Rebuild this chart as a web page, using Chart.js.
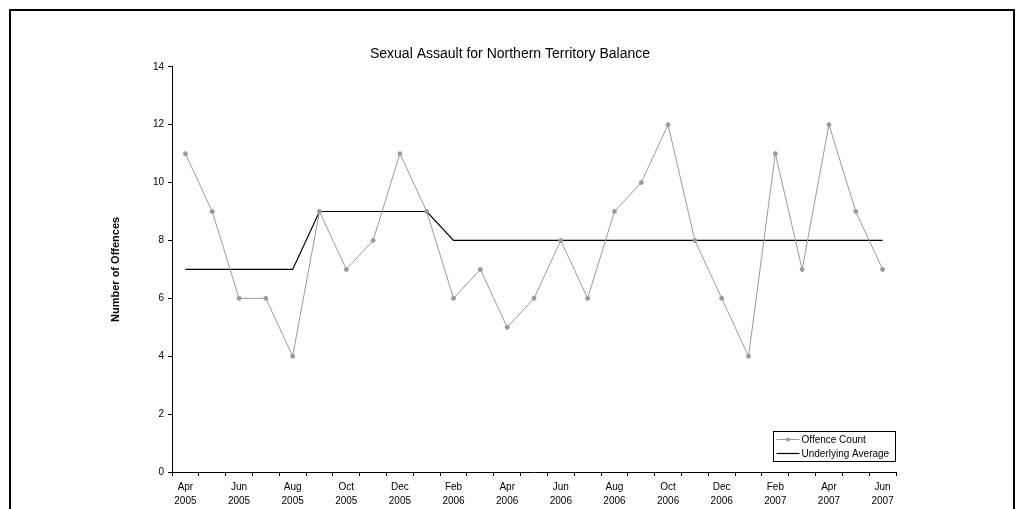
<!DOCTYPE html>
<html>
<head>
<meta charset="utf-8">
<script src="https://cdn.jsdelivr.net/npm/chart.js@4/dist/chart.umd.min.js"></script>
<style>
  html, body { margin: 0; padding: 0; background: #fff; overflow: hidden; }
  #wrap { position: relative; width: 1020px; height: 509px; }
  #frame { position: absolute; left: 9px; top: 9px; width: 1002px; height: 520px;
           border: 2px solid #000; pointer-events: none; }
  canvas { position: absolute; left: 0; top: 0; }
</style>
</head>
<body>
<div id="wrap">
  <canvas id="c" width="1020" height="509"></canvas>
  <div id="frame"></div>
</div>
<script>
const months = ['Apr 2005','May 2005','Jun 2005','Jul 2005','Aug 2005','Sep 2005','Oct 2005','Nov 2005','Dec 2005',
  'Jan 2006','Feb 2006','Mar 2006','Apr 2006','May 2006','Jun 2006','Jul 2006','Aug 2006','Sep 2006','Oct 2006',
  'Nov 2006','Dec 2006','Jan 2007','Feb 2007','Mar 2007','Apr 2007','May 2007','Jun 2007'];
const offenceCount = [11, 9, 6, 6, 4, 9, 7, 8, 11, 9, 6, 7, 5, 6, 8, 6, 9, 10, 12, 8, 6, 4, 11, 7, 12, 9, 7];
const underlyingAvg = [7, 7, 7, 7, 7, 9, 9, 9, 9, 9, 8, 8, 8, 8, 8, 8, 8, 8, 8, 8, 8, 8, 8, 8, 8, 8, 8];
const yTicks = [0, 2, 4, 6, 8, 10, 12, 14];

const FONT = '"Liberation Sans", Arial, sans-serif';

// legend box inside the plot, bottom right
const boxLegend = {
  id: 'boxLegend',
  afterDraw(chart) {
    const ctx = chart.ctx;
    const x = 773.5, y = 431.5, w = 122, h = 30;
    ctx.save();
    ctx.fillStyle = '#fff';
    ctx.fillRect(x, y, w, h);
    ctx.strokeStyle = '#000';
    ctx.lineWidth = 1;
    ctx.strokeRect(x, y, w, h);
    ctx.font = '10px ' + FONT;
    ctx.textBaseline = 'middle';
    chart.data.datasets.forEach((ds, i) => {
      const ly = y + 8 + i * 14;
      ctx.strokeStyle = ds.borderColor;
      ctx.lineWidth = ds.borderWidth;
      ctx.beginPath();
      ctx.moveTo(x + 3, ly);
      ctx.lineTo(x + 26, ly);
      ctx.stroke();
      if (ds.pointRadius > 0) {
        ctx.fillStyle = ds.pointBackgroundColor;
        ctx.beginPath();
        ctx.arc(x + 14.5, ly, ds.pointRadius, 0, Math.PI * 2);
        ctx.fill();
      }
      ctx.fillStyle = '#000';
      ctx.fillText(ds.label, x + 28, ly + 0.5);
    });
    ctx.restore();
  }
};

new Chart(document.getElementById('c'), {
  type: 'line',
  data: {
    labels: months,
    datasets: [{
      label: 'Offence Count',
      data: offenceCount,
      borderColor: '#9a9a9a',
      backgroundColor: '#9a9a9a',
      pointBackgroundColor: '#9a9a9a',
      pointBorderColor: '#9a9a9a',
      borderWidth: 1,
      pointRadius: 2,
      tension: 0
    }, {
      label: 'Underlying Average',
      data: underlyingAvg,
      borderColor: '#000',
      backgroundColor: '#000',
      pointBackgroundColor: '#000',
      borderWidth: 1.2,
      pointRadius: 0,
      tension: 0
    }]
  },
  options: {
    responsive: false,
    animation: false,
    layout: { padding: 0 },
    plugins: {
      legend: { display: false },
      tooltip: { enabled: false },
      title: {
        display: true,
        text: 'Sexual Assault for Northern Territory Balance',
        color: '#000',
        font: { family: FONT, size: 14, weight: 'normal' },
        padding: { top: 46, bottom: 4 }
      }
    },
    scales: {
      x: {
        offset: true,
        afterFit(s) { s.height = 37; },
        border: { display: true, color: '#000', width: 1 },
        grid: { offset: true, drawOnChartArea: false, drawTicks: true, tickLength: 4, color: '#000' },
        ticks: {
          autoSkip: false,
          maxRotation: 0,
          padding: 4,
          color: '#000',
          font: { family: FONT, size: 10, lineHeight: 1.4 },
          callback(v, i) { return i % 2 === 0 ? months[i].split(' ') : ''; }
        }
      },
      y: {
        min: 0,
        max: 14,
        afterFit(s) { s.width = 172; },
        afterBuildTicks(s) { s.ticks = yTicks.map(v => ({ value: v })); },
        border: { display: true, color: '#000', width: 1 },
        grid: { drawOnChartArea: false, drawTicks: true, tickLength: 4, color: '#000' },
        ticks: {
          padding: 4,
          color: '#000',
          font: { family: FONT, size: 10 }
        },
        title: {
          display: true,
          text: 'Number of Offences',
          color: '#000',
          font: { family: FONT, size: 11, weight: 'bold' },
          padding: { top: 109, bottom: 0 }
        }
      },
      // empty spacer on the right so the title centres on the whole page
      spacer: {
        type: 'linear',
        position: 'right',
        afterFit(s) { s.width = 124; },
        border: { display: false },
        grid: { display: false },
        ticks: { display: false }
      }
    }
  },
  plugins: [boxLegend]
});
</script>
</body>
</html>
